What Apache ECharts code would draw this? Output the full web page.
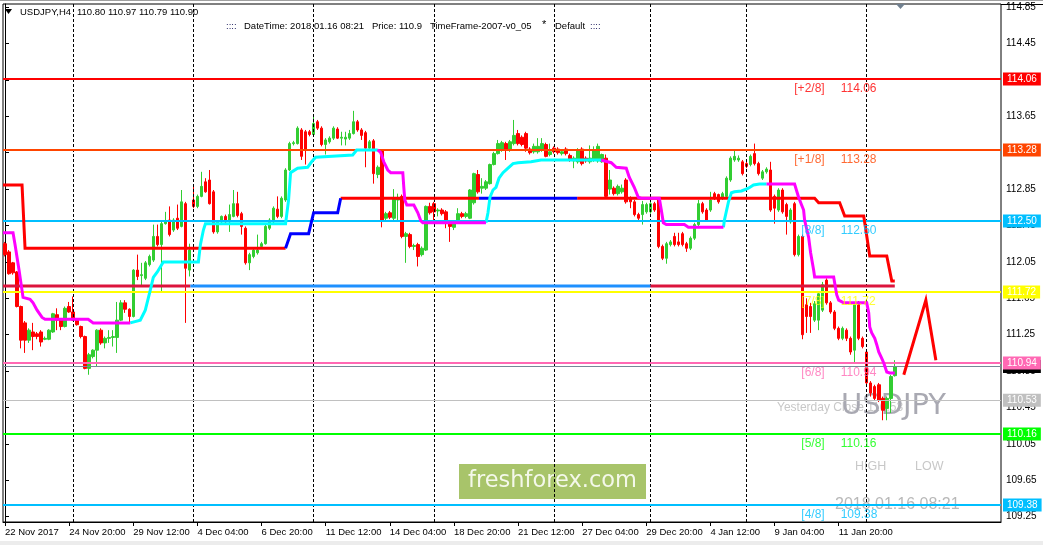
<!DOCTYPE html>
<html><head><meta charset="utf-8">
<script src="https://cdn.jsdelivr.net/npm/echarts@6/dist/echarts.min.js"></script>
<style>html,body{margin:0;padding:0;background:#fff}#c{width:1043px;height:545px}</style>
</head><body><div id="c"></div><script>
// ---------- DATA ----------
const barOpen = [
112.25,112.16,112.04,111.94,111.56,111.38,111.19,111.28,111.26,111.28,
111.20,111.20,111.28,111.47,111.41,111.34,111.56,111.50,111.41,111.34,
111.23,110.88,111.01,111.08,111.30,111.16,111.21,111.22,111.22,111.41,
111.60,111.53,111.45,111.96,111.90,111.87,112.02,112.07,112.33,112.24,
112.47,112.51,112.40,112.53,112.44,112.69,111.96,112.73,112.66,112.77,
112.93,112.95,112.82,112.38,112.49,112.55,112.49,112.55,112.69,112.58,
112.42,112.04,112.11,112.15,112.22,112.25,112.42,112.49,112.63,112.55,
112.73,113.06,113.35,113.35,113.50,113.48,113.48,113.45,113.59,113.52,
113.34,113.37,113.41,113.51,113.41,113.40,113.41,113.46,113.59,113.50,
113.47,113.30,113.38,113.01,113.28,112.53,112.59,112.53,112.73,112.77,
112.33,112.35,112.22,112.24,112.13,112.18,112.66,112.69,112.61,112.62,
112.60,112.49,112.43,112.51,112.58,112.55,112.53,112.70,113.01,112.86,
112.86,112.91,113.12,113.24,113.28,113.35,113.28,113.35,113.46,113.42,
113.46,113.29,113.26,113.26,113.28,113.34,113.23,113.30,113.29,113.24,
113.29,113.22,113.16,113.15,113.29,113.19,113.15,113.17,113.16,113.15,
113.19,112.85,112.86,112.80,112.82,112.95,112.75,112.71,112.57,112.57,
112.60,112.60,112.69,112.73,112.22,112.09,112.24,112.33,112.27,112.36,
112.25,112.20,112.31,112.46,112.69,112.62,112.62,112.80,112.79,112.75,
112.77,112.95,113.17,113.17,113.15,113.13,113.12,113.24,113.13,112.97,
113.04,113.06,112.77,112.62,112.84,112.68,112.49,112.69,112.13,112.33,
111.58,111.56,111.41,111.41,111.52,111.85,111.60,111.50,111.32,111.21,
111.30,111.21,111.08,111.58,111.21,111.06,110.72,110.68,110.70,110.55,
110.44,110.55,110.80];
const barHigh = [
112.27,112.18,112.05,111.95,111.57,111.40,111.32,111.38,111.28,111.30,
111.23,111.31,111.49,111.54,111.43,111.56,111.61,111.67,111.42,111.35,
111.24,111.05,111.09,111.31,111.32,111.23,111.30,111.30,111.61,111.63,
111.63,111.54,111.97,112.13,112.04,112.06,112.13,112.46,112.46,112.49,
112.60,112.66,112.53,112.68,112.84,112.71,112.25,112.88,112.79,113.04,
112.97,113.06,112.84,112.51,112.56,112.57,112.68,112.84,112.82,112.60,
112.44,112.15,112.20,112.35,112.27,112.46,112.53,112.66,112.77,112.77,
113.08,113.37,113.38,113.54,113.52,113.50,113.50,113.65,113.61,113.54,
113.41,113.43,113.54,113.53,113.48,113.48,113.50,113.71,113.61,113.52,
113.49,113.39,113.40,113.11,113.29,112.60,112.61,112.85,112.80,112.79,
112.38,112.37,112.25,112.26,112.22,112.67,112.70,112.71,112.64,112.64,
112.62,112.51,112.51,112.64,112.60,112.60,112.85,113.03,113.06,112.97,
112.95,113.13,113.26,113.39,113.38,113.37,113.39,113.61,113.50,113.44,
113.48,113.31,113.35,113.41,113.41,113.36,113.35,113.32,113.31,113.28,
113.31,113.24,113.21,113.30,113.31,113.21,113.33,113.32,113.35,113.24,
113.23,113.06,112.88,112.90,112.90,112.97,112.77,112.73,112.59,112.72,
112.70,112.71,112.71,112.74,112.24,112.27,112.29,112.37,112.37,112.38,
112.27,112.33,112.48,112.73,112.71,112.64,112.82,112.82,112.80,112.82,
112.99,113.21,113.28,113.22,113.17,113.15,113.23,113.35,113.15,113.06,
113.09,113.15,112.79,112.86,112.86,112.70,112.64,112.71,112.35,112.35,
111.65,111.60,111.62,111.72,111.83,111.87,111.62,111.52,111.34,111.34,
111.32,111.23,111.60,111.62,111.23,111.08,110.74,110.70,110.72,110.57,
110.57,110.81,110.97];
const barLow = [
112.11,111.91,111.91,111.55,111.10,111.05,111.16,111.08,111.20,111.12,
111.19,111.19,111.27,111.30,111.30,111.33,111.49,111.40,111.35,111.21,
110.87,110.81,110.99,110.90,111.14,111.10,111.16,111.12,111.05,111.40,
111.49,111.38,111.44,111.85,111.78,111.85,112.00,112.05,112.22,111.72,
112.46,112.33,112.38,112.40,112.43,111.38,111.89,112.64,112.64,112.76,
112.81,112.68,112.36,112.36,112.47,112.47,112.38,112.54,112.54,112.35,
112.02,111.96,112.09,112.13,112.20,112.24,112.40,112.47,112.53,112.53,
112.71,113.05,113.33,113.34,113.17,113.12,113.43,113.43,113.50,113.32,
113.23,113.35,113.39,113.40,113.33,113.33,113.39,113.45,113.48,113.39,
113.09,113.28,112.91,112.97,112.43,112.51,112.52,112.51,112.50,112.31,
112.04,112.20,112.18,112.00,112.11,112.17,112.57,112.49,112.55,112.56,
112.42,112.27,112.40,112.49,112.53,112.53,112.52,112.68,112.80,112.80,
112.84,112.90,113.11,113.23,113.26,113.17,113.26,113.33,113.33,113.32,
113.26,113.23,113.24,113.24,113.26,113.20,113.21,113.24,113.23,113.22,
113.22,113.15,113.08,113.13,113.11,113.14,113.13,113.15,113.14,113.14,
112.76,112.79,112.78,112.78,112.80,112.69,112.64,112.55,112.51,112.46,
112.58,112.58,112.60,112.20,112.07,112.03,112.22,112.22,112.22,112.22,
112.16,112.18,112.29,112.44,112.58,112.49,112.60,112.73,112.69,112.73,
112.75,112.93,113.15,113.15,113.00,113.08,113.10,113.11,113.00,112.95,
113.02,112.60,112.47,112.60,112.58,112.35,112.47,112.11,112.11,111.20,
111.27,111.27,111.39,111.30,111.50,111.58,111.48,111.30,111.19,111.19,
111.18,111.03,110.95,111.19,111.10,110.70,110.57,110.53,110.51,110.31,
110.31,110.39,110.79];
const barClose = [
112.13,111.92,111.93,111.56,111.19,111.19,111.30,111.23,111.23,111.17,
111.21,111.30,111.48,111.41,111.34,111.54,111.50,111.41,111.36,111.23,
110.88,111.03,111.08,111.30,111.16,111.21,111.22,111.23,111.41,111.60,
111.53,111.45,111.96,111.89,111.91,112.04,112.11,112.33,112.24,112.47,
112.49,112.35,112.51,112.42,112.71,111.98,112.18,112.66,112.77,112.88,
112.82,112.69,112.38,112.49,112.55,112.49,112.57,112.69,112.56,112.44,
112.04,112.13,112.18,112.18,112.25,112.44,112.51,112.64,112.55,112.75,
113.06,113.35,113.36,113.52,113.21,113.28,113.45,113.57,113.52,113.34,
113.39,113.41,113.52,113.41,113.42,113.42,113.46,113.59,113.50,113.44,
113.30,113.37,113.02,113.09,112.51,112.58,112.54,112.74,112.75,112.33,
112.36,112.22,112.23,112.11,112.20,112.66,112.59,112.60,112.62,112.58,
112.49,112.44,112.49,112.58,112.55,112.58,112.84,113.02,112.82,112.88,
112.93,113.12,113.24,113.35,113.36,113.28,113.37,113.44,113.35,113.34,
113.30,113.25,113.32,113.32,113.35,113.21,113.26,113.26,113.25,113.26,
113.24,113.17,113.19,113.28,113.13,113.16,113.19,113.28,113.32,113.23,
112.77,112.95,112.80,112.88,112.86,112.71,112.71,112.57,112.53,112.68,
112.68,112.69,112.62,112.22,112.09,112.25,112.27,112.24,112.24,112.24,
112.20,112.31,112.46,112.69,112.60,112.51,112.73,112.75,112.71,112.80,
112.97,113.19,113.21,113.19,113.02,113.10,113.21,113.13,113.02,113.04,
113.07,112.62,112.64,112.84,112.60,112.55,112.62,112.13,112.33,111.25,
111.45,111.45,111.59,111.70,111.80,111.60,111.50,111.32,111.21,111.32,
111.21,111.06,111.58,111.21,111.12,110.72,110.61,110.55,110.53,110.42,
110.55,110.79,110.90];

const dateLabels = ['22 Nov 2017','24 Nov 20:00','29 Nov 12:00','4 Dec 04:00','6 Dec 20:00','11 Dec 12:00',
  '14 Dec 04:00','18 Dec 20:00','21 Dec 12:00','27 Dec 04:00','29 Dec 20:00','4 Jan 12:00','9 Jan 04:00','11 Jan 20:00'];
const labelStep = 16;
const slotCount = 249;
const weekLines = [17,47,77,107,137,161,185,215];
const priceTicks = [109.25,109.65,110.05,110.45,110.85,111.25,111.65,112.05,112.45,112.85,113.25,113.65,114.05,114.45,114.85];

const murreyLevels = [114.06,113.28,112.50,111.72,110.94,110.16,109.38];
const murreyTags = ['[+2/8]','[+1/8]','[8/8]','[7/8]','[6/8]','[5/8]','[4/8]'];
const murreyColors = ['#FF0000','#FF4500','#00BFFF','#FFFF00','#FF69B4','#00FF00','#00BFFF'];
const bidPrice = 110.90;
const yesterdayClose = 110.53;
const midLevel = 111.785;

const trendRedSegs = [
  [[-0.5,112.895],[4.25,112.895],[5,112.20],[70,112.20]],
  [[83.75,112.75],[118.25,112.75]],
  [[142.75,112.75],[202,112.75],[203,112.70],[208.25,112.70],[209.5,112.555],[214.25,112.555],[215.75,112.115],[220,112.115],[221.25,111.84],[222,111.84]]
];
const trendBlueSegs = [
  [[70,112.20],[71.25,112.36],[75.75,112.36],[77,112.59],[83,112.59],[83.75,112.75]],
  [[118.25,112.75],[142.75,112.75]]
];
const midCrimsonSegs = [[[-0.5,midLevel],[46.25,midLevel]],[[161,midLevel],[222,midLevel]]];
const midBlueSegs = [[[46.25,midLevel],[161,midLevel]]];

const magentaSegs = [
  [[-0.5,112.37],[2,112.37],[2.5,112.24],[3.5,111.96],[4.5,111.66],[6.25,111.64],[7,111.60],[8,111.52],[9.25,111.44],[10,111.42],[20.75,111.42],[22,111.38],[31.25,111.38]],
  [[93,113.28],[93.75,113.25],[94.5,113.15],[95.5,113.06],[96.25,113.03],[99.25,113.03],[99.5,112.87],[99.75,112.73],[100.25,112.675],[102,112.675],[103,112.59],[103.75,112.50],[104.25,112.48],[120,112.48]],
  [[148.75,113.17],[151.25,113.14],[152.5,113.09],[155,113.08],[155.75,112.98],[157,112.87],[158,112.76],[158.75,112.75],[163.25,112.75],[163.75,112.62],[164.25,112.48],[165,112.46],[169.5,112.46],[170.5,112.43],[179.25,112.43]],
  [[190,112.905],[197,112.905],[198,112.76],[198.75,112.675],[199.25,112.62],[199.5,112.51],[200.5,112.32],[201,112.15],[201.75,111.96],[202,111.885],[206.75,111.885],[207.5,111.69],[208,111.63],[209.25,111.60],[215,111.60],[215.5,111.49],[215.75,111.335],[216.25,111.27],[217,111.21],[217.5,111.14],[218,111.06],[218.75,110.99],[219.25,110.94],[220,110.84],[220.75,110.83],[222,110.83]]
];
const cyanSegs = [
  [[31.25,111.38],[33.75,111.41],[35,111.52],[36.25,111.74],[37,111.88],[38,111.94],[39.5,112.05],[48.25,112.05],[48.75,112.24],[49.5,112.40],[50,112.47],[70,112.47],[70.75,112.73],[71.25,113.03],[73,113.08],[75.5,113.09],[76.5,113.15],[77.5,113.20],[86.75,113.225],[87.75,113.28],[93,113.28]],
  [[120,112.48],[120.5,112.59],[121,112.76],[121.75,112.84],[122.5,112.87],[123.25,112.97],[124.25,113.03],[125.5,113.08],[126.75,113.13],[128,113.14],[131.25,113.15],[133.75,113.17],[148.75,113.17]],
  [[179.25,112.43],[179.5,112.51],[180.5,112.71],[181.25,112.81],[182,112.82],[183.75,112.83],[185.5,112.86],[186.75,112.895],[188.25,112.905],[190,112.905]]
];
const projection = [[224.25,110.81],[229.75,111.63],[232.25,110.97]];

// ---------- CHART ----------
const FONT = '"Liberation Sans", Arial, sans-serif';
const categories = Array.from({length: slotCount}, (_, i) => String(i));
const candleData = barOpen.map((o, i) => [o, barClose[i], barLow[i], barHigh[i]]);

function segSeries(segs, color, width, z) {
  return segs.map(pts => ({
    type: 'line', xAxisIndex: 1, yAxisIndex: 0, data: pts, symbol: 'none', showSymbol: false,
    lineStyle: {color: color, width: width, cap: 'butt', join: 'miter'}, z: z, silent: true, animation: false
  }));
}
function boxLabel(v, bg) {
  return {show: true, position: 'end', distance: 2, formatter: v.toFixed(2), backgroundColor: bg, color: '#fff',
          padding: [2, 4, 1, 4], fontSize: 10, fontFamily: FONT};
}
const showLabelAt = idx => idx % labelStep === 0 && idx / labelStep < dateLabels.length;

const chart = echarts.init(document.getElementById('c'), null, {renderer: 'canvas'});
const option = {
  animation: false,
  backgroundColor: '#fff',
  grid: {left: 3, right: 42, top: 4, bottom: 23, show: true, borderColor: '#000', borderWidth: 1, backgroundColor: '#fff', z: 0},
  xAxis: [
    {type: 'category', data: categories, boundaryGap: true,
     axisLine: {show: true, lineStyle: {color: '#000', width: 1}},
     axisTick: {show: true, interval: showLabelAt, alignWithLabel: true, length: 4, lineStyle: {color: '#000'}},
     axisLabel: {interval: showLabelAt, formatter: (v, i) => dateLabels[i / labelStep], align: 'left', color: '#000',
                 fontSize: 9.5, fontFamily: FONT, margin: 5},
     splitLine: {show: false}},
    {type: 'value', min: -0.5, max: slotCount - 0.5, show: false}
  ],
  yAxis: {type: 'value', position: 'right', min: 109.192, max: 114.884,
    splitLine: {show: false},
    axisLine: {show: true, lineStyle: {color: '#000', width: 1}},
    axisTick: {show: true, customValues: priceTicks, length: 4, lineStyle: {color: '#000'}},
    axisLabel: {customValues: priceTicks, formatter: v => v.toFixed(2), color: '#000', fontSize: 10, fontFamily: FONT, margin: 5}
  },
  graphic: [
    {type: 'rect', shape: {x: 0, y: 0, width: 1043, height: 1}, style: {fill: '#a0a0a0'}, z: 50, silent: true},
    {type: 'rect', shape: {x: 1001, y: 4, width: 42, height: 1}, style: {fill: '#000'}, z: 50, silent: true},
    {type: 'rect', shape: {x: 0, y: 541, width: 1043, height: 4}, style: {fill: '#ececec'}, z: 50, silent: true},
    {type: 'polygon', shape: {points: [[896, 4], [905, 4], [900.5, 9]]}, style: {fill: '#708090'}, z: 50, silent: true},
    {type: 'polygon', shape: {points: [[5, 9], [12, 9], [8.5, 14]]}, style: {fill: '#000'}, z: 50, silent: true},
    {type: 'text', x: 20, y: 12, style: {text: 'USDJPY,H4', fill: '#000', font: '9.5px ' + FONT, textVerticalAlign: 'middle'}, z: 50},
    {type: 'text', x: 77, y: 12, style: {text: '110.80 110.97 110.79 110.90', fill: '#000', font: '9.5px ' + FONT, textVerticalAlign: 'middle'}, z: 50},
    {type: 'text', x: 226, y: 26, style: {text: '::::', fill: '#202060', font: '9.5px ' + FONT, textVerticalAlign: 'middle'}, z: 50},
    {type: 'text', x: 244, y: 26, style: {text: 'DateTime: 2018.01.16 08:21', fill: '#000', font: '9.5px ' + FONT, textVerticalAlign: 'middle'}, z: 50},
    {type: 'text', x: 372, y: 26, style: {text: 'Price: 110.9', fill: '#000', font: '9.5px ' + FONT, textVerticalAlign: 'middle'}, z: 50},
    {type: 'text', x: 430, y: 26, style: {text: 'TimeFrame-2007-v0_05', fill: '#000', font: '9.5px ' + FONT, textVerticalAlign: 'middle'}, z: 50},
    {type: 'text', x: 542, y: 25, style: {text: '*', fill: '#000', font: '11px ' + FONT, textVerticalAlign: 'middle'}, z: 50},
    {type: 'text', x: 555, y: 26, style: {text: 'Default', fill: '#000', font: '9.5px ' + FONT, textVerticalAlign: 'middle'}, z: 50},
    {type: 'text', x: 590, y: 26, style: {text: '::::', fill: '#202060', font: '9.5px ' + FONT, textVerticalAlign: 'middle'}, z: 50},
    {type: 'rect', shape: {x: 459, y: 464, width: 187, height: 35}, style: {fill: '#a8c46a'}, z: 1, silent: true},
    {type: 'text', x: 552.5, y: 481.5, style: {text: 'freshforex.com', fill: '#f4f8ea', font: '22.5px "DejaVu Sans", sans-serif', textAlign: 'center', textVerticalAlign: 'middle'}, z: 1},
    {type: 'text', x: 777, y: 408, style: {text: 'Yesterday Close 110.53', fill: '#c8c8c8', font: '12px ' + FONT, textVerticalAlign: 'middle'}, z: 1},
    {type: 'text', x: 841, y: 406, style: {text: 'USDJPY', fill: '#a9a9b2', font: '29px "DejaVu Sans", sans-serif', textVerticalAlign: 'middle'}, z: 1},
    {type: 'text', x: 855, y: 467, style: {text: 'HIGH', fill: '#c8c8c8', font: '12.5px ' + FONT, textVerticalAlign: 'middle'}, z: 1},
    {type: 'text', x: 915, y: 467, style: {text: 'LOW', fill: '#c8c8c8', font: '12.5px ' + FONT, textVerticalAlign: 'middle'}, z: 1},
    {type: 'text', x: 835, y: 505, style: {text: '2018.01.16 08:21', fill: '#b8b8b8', font: '16px ' + FONT, textVerticalAlign: 'middle'}, z: 1}
  ],
  series: [
    {type: 'line', xAxisIndex: 1, yAxisIndex: 0, data: [[0, 112]], symbol: 'none', lineStyle: {opacity: 0}, z: 2, silent: true,
     markLine: {symbol: ['none', 'none'], silent: true, animation: false,
       lineStyle: {color: '#000', width: 1, type: [3, 2]}, label: {show: false},
       data: weekLines.map(x => ({xAxis: x}))}},
    {type: 'candlestick', xAxisIndex: 0, yAxisIndex: 0, data: candleData, barWidth: 3, z: 3, silent: true,
     itemStyle: {color: '#32CD32', color0: '#FF0000', borderColor: '#32CD32', borderColor0: '#FF0000', borderWidth: 1}},
    {type: 'line', xAxisIndex: 1, yAxisIndex: 0, data: [[0, 112]], symbol: 'none', lineStyle: {opacity: 0}, z: 4, silent: true,
     markLine: {symbol: ['none', 'none'], silent: true, animation: false,
       data: [
         {yAxis: yesterdayClose, lineStyle: {color: '#c0c0c0', width: 1, type: 'solid'}, label: boxLabel(yesterdayClose, '#c0c0c0')},
         {yAxis: bidPrice, lineStyle: {color: '#778899', width: 1, type: 'solid'}, label: boxLabel(bidPrice, '#000')}
       ]}},
    {type: 'line', xAxisIndex: 1, yAxisIndex: 0, data: [[0, 112]], symbol: 'none', lineStyle: {opacity: 0}, z: 5, silent: true,
     markLine: {symbol: ['none', 'none'], silent: true, animation: false,
       data: murreyLevels.map((v, i) => ({yAxis: v, lineStyle: {color: murreyColors[i], width: 2, type: 'solid'}, label: boxLabel(v, murreyColors[i])}))}},
    ...segSeries(midCrimsonSegs, '#DC143C', 3, 6),
    ...segSeries(midBlueSegs, '#1E90FF', 3, 6),
    ...segSeries(trendRedSegs, '#FF0000', 3, 6),
    ...segSeries(trendBlueSegs, '#0000FF', 3, 6),
    ...segSeries(cyanSegs, '#00FFFF', 3, 7),
    ...segSeries(magentaSegs, '#FF00FF', 3, 7),
    ...segSeries([projection], '#FF0000', 3, 7),
    {type: 'scatter', xAxisIndex: 1, yAxisIndex: 0, symbolSize: 0.01, itemStyle: {color: 'rgba(0,0,0,0)'}, z: 8, silent: true,
     data: murreyLevels.map((v, i) => ({value: [204.5, v], label: {color: murreyColors[i]}})),
     label: {show: true, position: 'left', distance: 0, offset: [0, 10], formatter: p => murreyTags[p.dataIndex], fontSize: 12, fontFamily: FONT}},
    {type: 'scatter', xAxisIndex: 1, yAxisIndex: 0, symbolSize: 0.01, itemStyle: {color: 'rgba(0,0,0,0)'}, z: 8, silent: true,
     data: murreyLevels.map((v, i) => ({value: [208.5, v], label: {color: murreyColors[i]}})),
     label: {show: true, position: 'right', distance: 0, offset: [0, 10], formatter: p => p.value[1].toFixed(2), fontSize: 12, fontFamily: FONT}}
  ]
};
chart.setOption(option);
</script></body></html>
